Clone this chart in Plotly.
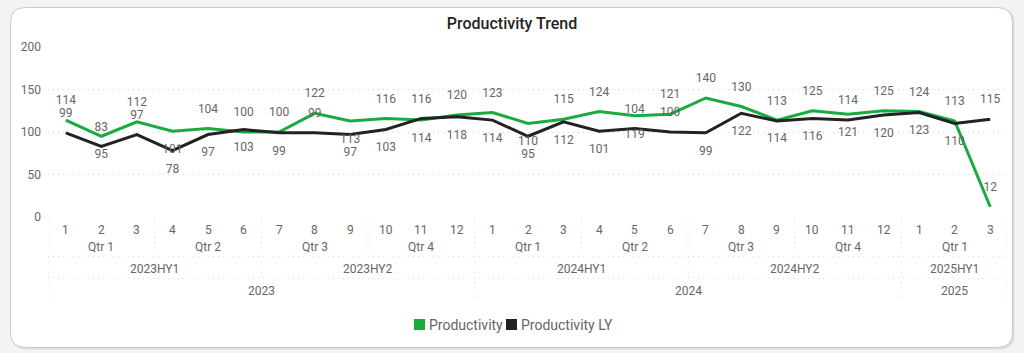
import plotly.graph_objects as go

# ---------------- data ----------------
month_labels = ["1", "2", "3", "4", "5", "6", "7", "8", "9", "10", "11", "12",
                "1", "2", "3", "4", "5", "6", "7", "8", "9", "10", "11", "12",
                "1", "2", "3"]
quarter_labels = ["Qtr 1", "Qtr 2", "Qtr 3", "Qtr 4",
                  "Qtr 1", "Qtr 2", "Qtr 3", "Qtr 4",
                  "Qtr 1"]
half_labels = ["2023HY1", "2023HY2", "2024HY1", "2024HY2", "2025HY1"]
year_labels = ["2023", "2024", "2025"]
months_per_quarter = [3, 3, 3, 3, 3, 3, 3, 3, 3]
months_per_half = [6, 6, 6, 6, 3]
months_per_year = [12, 12, 3]

productivity = [114, 95, 112, 101, 104, 100, 100, 122, 113, 116, 114, 120,
                123, 110, 115, 124, 119, 121, 140, 130, 114, 125, 121, 125,
                124, 113, 12]
productivity_ly = [99, 83, 97, 78, 97, 103, 99, 99, 97, 103, 116, 118,
                   114, 95, 112, 101, 104, 100, 99, 122, 113, 116, 114, 120,
                   123, 110, 115]

y_ticks = [0, 50, 100, 150, 200]

# ---------------- styling ----------------
T, B = "top center", "bottom center"
green_label_pos = [T, B, T, B, T, T, T, T, B, T, B, T,
                   T, B, T, T, B, T, T, T, B, T, B, T,
                   T, T, T]
ly_label_pos = [T, T, T, B, B, B, B, T, B, B, T, B,
                B, B, B, B, T, T, B, B, T, B, T, B,
                B, B, T]

GREEN = "#1AAB40"
BLACK = "#222222"
GRAY_TXT = "#666666"
GRID = "#d2d2d2"
FONT = "Segoe UI, Roboto, sans-serif"
DOTS = "1px,4px"

W, H = 1024, 353
ML, MR, MT, MB = 48, 16, 47, 136
PW, PH = W - ML - MR, H - MT - MB


def px(x):
    return (x - ML) / PW


def py(y):
    return (H - MB - y) / PH


x_idx = list(range(len(month_labels)))

fig = go.Figure()
fig.add_trace(go.Scatter(x=x_idx, y=productivity, mode="lines", name="Productivity",
                         line=dict(color=GREEN, width=3), showlegend=False))
fig.add_trace(go.Scatter(x=x_idx, y=productivity_ly, mode="lines", name="Productivity LY",
                         line=dict(color=BLACK, width=3), showlegend=False))
# data labels
for vals, pos in ((productivity, green_label_pos), (productivity_ly, ly_label_pos)):
    fig.add_trace(go.Scatter(x=x_idx, y=vals, mode="markers+text",
                             text=[str(v) for v in vals], textposition=pos,
                             marker=dict(size=19, color="rgba(0,0,0,0)"),
                             textfont=dict(family=FONT, size=12, color=GRAY_TXT),
                             showlegend=False, hoverinfo="skip"))

shapes = []


def rounded(x0, y0, x1, y1, r):
    return (f"M {px(x0 + r)} {py(y0)} L {px(x1 - r)} {py(y0)} Q {px(x1)} {py(y0)} {px(x1)} {py(y0 + r)} "
            f"L {px(x1)} {py(y1 - r)} Q {px(x1)} {py(y1)} {px(x1 - r)} {py(y1)} "
            f"L {px(x0 + r)} {py(y1)} Q {px(x0)} {py(y1)} {px(x0)} {py(y1 - r)} "
            f"L {px(x0)} {py(y0 + r)} Q {px(x0)} {py(y0)} {px(x0 + r)} {py(y0)} Z")


# card shadow + card
shapes.append(dict(type="path", xref="paper", yref="paper", layer="below",
                   path=rounded(11.5, 8.5, 1014.5, 349.5, 15),
                   fillcolor="#dedede", line=dict(width=0)))
shapes.append(dict(type="path", xref="paper", yref="paper", layer="below",
                   path=rounded(10.5, 7.5, 1012.5, 347.5, 15),
                   fillcolor="white", line=dict(color="#c8c8c8", width=1)))

# hierarchical axis dividers
div_line = dict(color="#dcdcdc", width=1, dash=DOTS)
row_bottom = [py(256.5), py(278.5), py(300)]
for yb in row_bottom[:2]:
    shapes.append(dict(type="line", xref="paper", yref="paper", x0=0, x1=1, y0=yb, y1=yb,
                       line=div_line))


def boundaries(counts):
    out, s = [], 0
    for c in counts[:-1]:
        s += c
        out.append(s - 0.5)
    return out


year_b = boundaries(months_per_year)
half_b = [b for b in boundaries(months_per_half) if b not in year_b]
qtr_b = [b for b in boundaries(months_per_quarter) if b not in year_b and b not in half_b]
for blist, yb in ((qtr_b, row_bottom[0]), (half_b, row_bottom[1]),
                  (year_b + [-0.5, len(month_labels) - 0.5], row_bottom[2])):
    for b in blist:
        shapes.append(dict(type="line", xref="x", yref="paper", x0=b, x1=b, y0=0, y1=yb,
                           line=div_line))

# legend squares
shapes.append(dict(type="rect", xref="paper", yref="paper", x0=px(414), x1=px(425),
                   y0=py(319), y1=py(330), fillcolor=GREEN, line=dict(width=0)))
shapes.append(dict(type="rect", xref="paper", yref="paper", x0=px(506), x1=px(517),
                   y0=py(319), y1=py(330), fillcolor="#1f2320", line=dict(width=0)))

annotations = []
axfont = dict(family=FONT, size=12, color=GRAY_TXT)


def group_centers(counts):
    out, s = [], 0
    for c in counts:
        out.append(s + (c - 1) / 2)
        s += c
    return out


for i, m in enumerate(month_labels):
    annotations.append(dict(x=i, y=py(229.5), xref="x", yref="paper", text=m, showarrow=False,
                            font=axfont, yanchor="middle"))
for rowy, labels, counts in ((246.5, quarter_labels, months_per_quarter),
                             (268.5, half_labels, months_per_half),
                             (290.5, year_labels, months_per_year)):
    for lab, cx in zip(labels, group_centers(counts)):
        annotations.append(dict(x=cx, y=py(rowy), xref="x", yref="paper", text=lab,
                                showarrow=False, font=axfont, yanchor="middle"))

legfont = dict(family=FONT, size=14, color=GRAY_TXT)
annotations.append(dict(x=px(427), y=py(324.5), xref="paper", yref="paper", text="Productivity",
                        showarrow=False, font=legfont, xanchor="left", yanchor="middle"))
annotations.append(dict(x=px(519), y=py(324.5), xref="paper", yref="paper", text="Productivity LY",
                        showarrow=False, font=legfont, xanchor="left", yanchor="middle"))

fig.update_layout(
    width=W, height=H,
    margin=dict(l=ML, r=MR, t=MT, b=MB),
    paper_bgcolor="#f3f3f3",
    plot_bgcolor="rgba(0,0,0,0)",
    title=dict(text="Productivity Trend", x=0.5, xref="container", xanchor="center",
               y=1 - 23 / H, yref="container", yanchor="middle",
               font=dict(family="DIN, Roboto, sans-serif", size=16, color="#252423", weight=500)),
    xaxis=dict(range=[-0.5, len(month_labels) - 0.5], showticklabels=False, showgrid=False,
               zeroline=False, showline=False, fixedrange=True),
    yaxis=dict(range=[0, 200], tickvals=y_ticks, ticktext=[str(v) for v in y_ticks],
               showgrid=True, gridcolor=GRID, griddash=DOTS, gridwidth=1,
               zeroline=False, showline=False, ticks="", ticklabelstandoff=6,
               tickfont=dict(family=FONT, size=12, color=GRAY_TXT), fixedrange=True),
    shapes=shapes,
    annotations=annotations,
    showlegend=False,
)

fig.write_html("out.html")
